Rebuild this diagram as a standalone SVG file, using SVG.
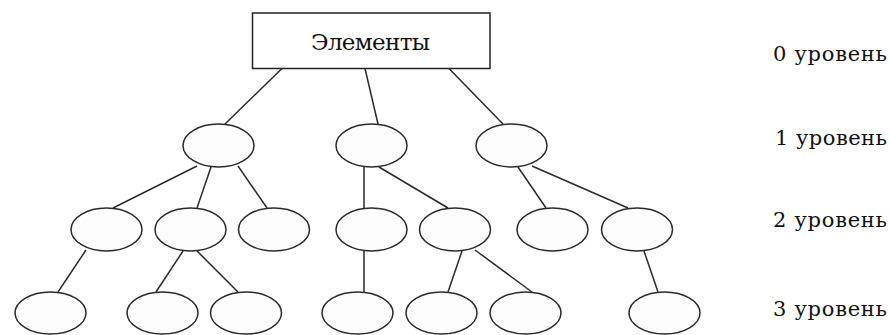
<svg xmlns="http://www.w3.org/2000/svg" width="890" height="335" viewBox="0 0 890 335">
<style>
.n{fill:#fdfdfd;stroke:#2a2a2a;stroke-width:1.5}
.c line{stroke:#2a2a2a;stroke-width:1.5}
.t{fill:#111;font-family:'DejaVu Serif','Liberation Serif',serif}
</style>
<rect width="890" height="335" fill="#fff"/>
<g id="connectors" class="c">
<line x1="282" y1="68.5" x2="225" y2="124"/>
<line x1="365" y1="68.5" x2="378" y2="124"/>
<line x1="449" y1="68.5" x2="503" y2="124"/>
<line x1="197" y1="166" x2="113" y2="208"/>
<line x1="211" y1="167" x2="197" y2="208"/>
<line x1="238" y1="166" x2="267" y2="208"/>
<line x1="364" y1="167" x2="364" y2="208"/>
<line x1="379" y1="167" x2="448" y2="208"/>
<line x1="518" y1="167" x2="546" y2="208"/>
<line x1="532" y1="166" x2="628" y2="208"/>
<line x1="86" y1="250" x2="58" y2="292"/>
<line x1="183" y1="251" x2="156" y2="292"/>
<line x1="197" y1="251" x2="238" y2="292"/>
<line x1="364" y1="251" x2="364" y2="292"/>
<line x1="462" y1="251" x2="448" y2="292"/>
<line x1="475" y1="250" x2="532" y2="292"/>
<line x1="644" y1="251" x2="658" y2="292"/>
</g>
<g id="root">
<rect x="252.5" y="13" width="237.5" height="55.5" fill="#fff" stroke="#222" stroke-width="1.5"/>
<text class="t" x="311" y="50" font-size="23" textLength="119" lengthAdjust="spacing">Элементы</text>
</g>
<g id="n1a"><ellipse class="n" cx="218.5" cy="145.5" rx="35.5" ry="21.5"/></g>
<g id="n1b"><ellipse class="n" cx="371.5" cy="145.5" rx="35.5" ry="21.5"/></g>
<g id="n1c"><ellipse class="n" cx="511.5" cy="145.5" rx="35.5" ry="21.5"/></g>
<g id="n2a"><ellipse class="n" cx="106.5" cy="229.5" rx="35.5" ry="21.5"/></g>
<g id="n2b"><ellipse class="n" cx="190.5" cy="229.5" rx="35.5" ry="21.5"/></g>
<g id="n2c"><ellipse class="n" cx="274" cy="229.5" rx="35.5" ry="21.5"/></g>
<g id="n2d"><ellipse class="n" cx="371.5" cy="229.5" rx="35.5" ry="21.5"/></g>
<g id="n2e"><ellipse class="n" cx="455" cy="229.5" rx="35.5" ry="21.5"/></g>
<g id="n2f"><ellipse class="n" cx="552.5" cy="229.5" rx="35.5" ry="21.5"/></g>
<g id="n2g"><ellipse class="n" cx="637" cy="229.5" rx="35.5" ry="21.5"/></g>
<g id="n3a"><ellipse class="n" cx="50.5" cy="313" rx="35.5" ry="21"/></g>
<g id="n3b"><ellipse class="n" cx="162.5" cy="313" rx="35.5" ry="21"/></g>
<g id="n3c"><ellipse class="n" cx="246" cy="313" rx="35.5" ry="21"/></g>
<g id="n3d"><ellipse class="n" cx="357.5" cy="313" rx="35.5" ry="21"/></g>
<g id="n3e"><ellipse class="n" cx="441.5" cy="313" rx="35.5" ry="21"/></g>
<g id="n3f"><ellipse class="n" cx="525.5" cy="313" rx="35.5" ry="21"/></g>
<g id="n3g"><ellipse class="n" cx="664.5" cy="313" rx="35.5" ry="21"/></g>
<g id="levels">
<text class="t" x="773" y="61" font-size="21" textLength="114" lengthAdjust="spacing">0 уровень</text>
<text class="t" x="775" y="145" font-size="21" textLength="112" lengthAdjust="spacing">1 уровень</text>
<text class="t" x="773" y="227" font-size="21" textLength="114" lengthAdjust="spacing">2 уровень</text>
<text class="t" x="773" y="316" font-size="21" textLength="114" lengthAdjust="spacing">3 уровень</text>
</g>
</svg>
